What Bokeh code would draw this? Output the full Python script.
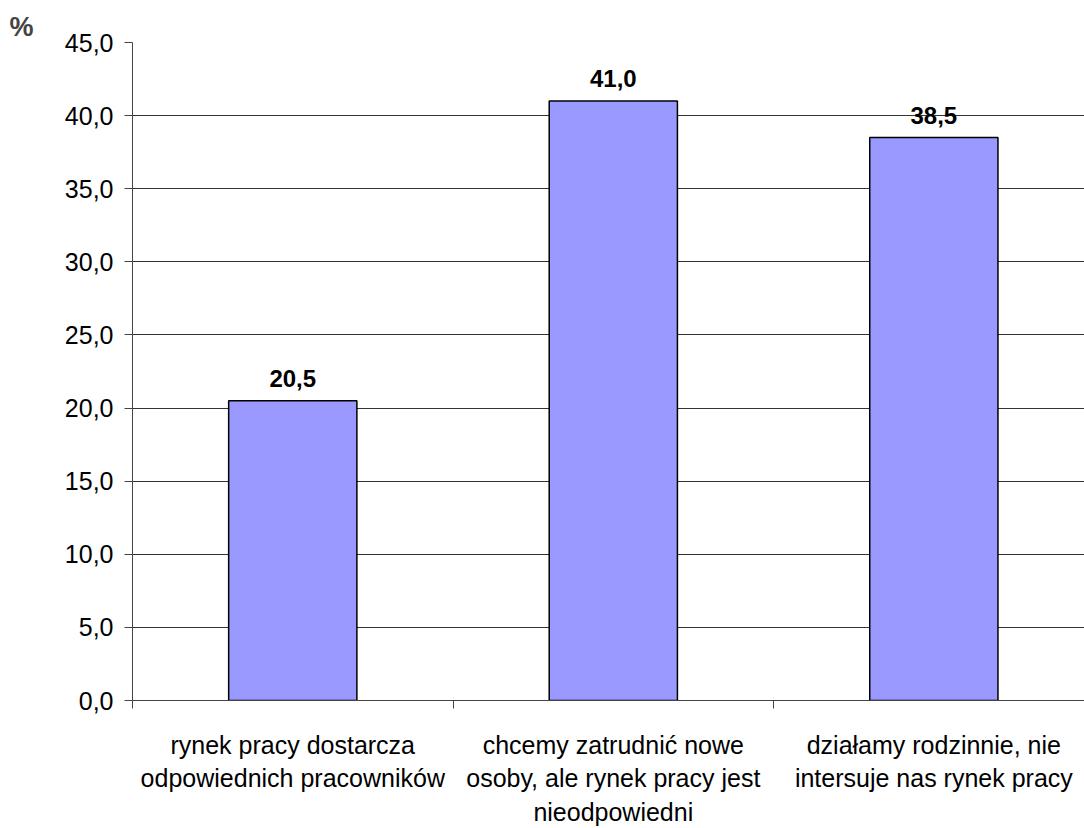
from bokeh.plotting import figure
from bokeh.models import FixedTicker, ColumnDataSource
from bokeh.core.properties import value
from bokeh.embed import file_html
from bokeh.resources import INLINE

categories = [
    "rynek pracy dostarcza\nodpowiednich pracowników",
    "chcemy zatrudnić nowe\nosoby, ale rynek pracy jest\nnieodpowiedni",
    "działamy rodzinnie, nie\nintersuje nas rynek pracy",
]
values = [20.5, 41.0, 38.5]
y_ticks = [0, 5, 10, 15, 20, 25, 30, 35, 40, 45]

FONT = "Liberation Sans"
FS = "25px"

xs = [i + 0.5 for i in range(len(categories))]
labels = [f"{v:.1f}".replace(".", ",") for v in values]
src = ColumnDataSource(dict(x=xs, top=values, label=labels))

p = figure(
    width=1084, height=828,
    x_range=(0, 2.97), y_range=(0, 45),
    output_backend="svg", toolbar_location=None,
    min_border_left=132, min_border_right=0,
    min_border_top=42, min_border_bottom=115,
)
p.outline_line_color = None
p.background_fill_color = "white"
p.border_fill_color = "white"

# unit marker in the top-left corner
p.title.text = "%"
p.title.align = "left"
p.title.offset = -123
p.title.text_font = FONT
p.title.text_font_size = "27px"
p.title.text_font_style = "bold"
p.title.standoff = 2

p.vbar(x="x", top="top", width=0.4, source=src,
       fill_color="#9999ff", line_color="black", line_width=1.5)

p.text(x="x", y="top", text="label", source=src,
       text_align="center", text_baseline="bottom", y_offset=-14,
       text_font=value(FONT), text_font_size="24px", text_font_style="bold",
       text_color="black")

# y axis
p.yaxis.ticker = FixedTicker(ticks=y_ticks)
p.yaxis.major_label_overrides = {t: f"{t:.1f}".replace(".", ",") for t in y_ticks}
p.yaxis.major_label_text_font = FONT
p.yaxis.major_label_text_font_size = FS
p.yaxis.major_label_text_color = "black"
p.yaxis.major_tick_in = 0
p.yaxis.major_tick_out = 8
p.yaxis.minor_tick_line_color = None
p.yaxis.axis_line_color = "#444444"
p.yaxis.major_tick_line_color = "#444444"
p.yaxis.major_label_standoff = 11

# x axis: category names centred, boundary ticks between them
p.xaxis.ticker = FixedTicker(ticks=xs, minor_ticks=[0, 1, 2, 3])
p.xaxis.major_label_overrides = {x: c for x, c in zip(xs, categories)}
p.xaxis.major_label_text_font = FONT
p.xaxis.major_label_text_font_size = FS
p.xaxis.major_label_text_color = "black"
p.xaxis.major_label_text_line_height = 1.2
p.xaxis.major_tick_line_color = None
p.xaxis.minor_tick_in = 0
p.xaxis.minor_tick_out = 8
p.xaxis.minor_tick_line_color = "#444444"
p.xaxis.axis_line_color = "#444444"
p.xaxis.major_label_standoff = 22

p.xgrid.grid_line_color = None
p.ygrid.ticker = FixedTicker(ticks=y_ticks)
p.ygrid.grid_line_color = "#333333"
p.ygrid.grid_line_width = 1

open("out.html", "w").write(file_html(p, INLINE))
